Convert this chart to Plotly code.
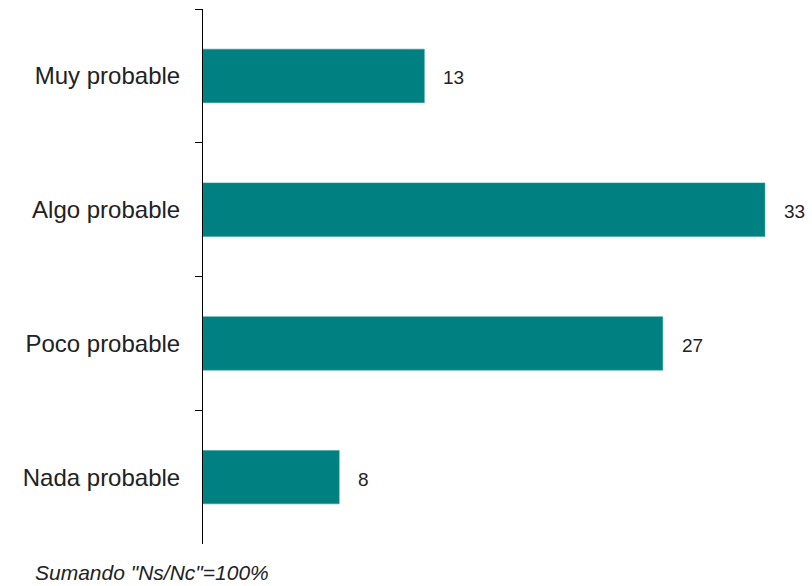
import plotly.graph_objects as go

categories = ["Muy probable", "Algo probable", "Poco probable", "Nada probable"]
values = [13, 33, 27, 8]
footnote = 'Sumando "Ns/Nc"=100%'

FONT = "Liberation Sans, Arial, sans-serif"

fig = go.Figure()
fig.add_trace(go.Bar(
    x=values,
    y=categories,
    orientation="h",
    marker=dict(color="#008080", line=dict(color="#2a9a9a", width=0.5)),
    width=0.4,
    hoverinfo="skip",
))

for c, v in zip(categories, values):
    fig.add_annotation(
        x=v, y=c, text=str(v), showarrow=False,
        xanchor="left", xshift=17, yshift=-2,
        font=dict(family=FONT, size=19, color="#222"),
    )

fig.add_annotation(
    x=0, y=0, xref="paper", yref="paper",
    text="<i>" + footnote + "</i>", showarrow=False,
    xanchor="left", yanchor="top",
    xshift=-170, yshift=-15,
    font=dict(family=FONT, size=21, color="#222"),
)

fig.update_layout(
    width=812, height=586,
    margin=dict(l=203, r=13, t=9, b=42, autoexpand=False),
    paper_bgcolor="white", plot_bgcolor="white",
    showlegend=False,
    font=dict(family=FONT, size=24, color="#222"),
    xaxis=dict(range=[0, 35], visible=False),
    yaxis=dict(
        categoryorder="array", categoryarray=categories, autorange="reversed",
        showline=True, linecolor="black", linewidth=1,
        ticks="outside", tickson="boundaries", ticklen=7, tickcolor="black",
        showgrid=False, zeroline=False, automargin=False,
        tickfont=dict(size=24, color="#222"),
        ticklabelstandoff=17,
    ),
)

# remove the browser's default body margin so the figure fills the window
fig.write_html(
    "out.html",
    config={"displayModeBar": False},
    post_script="document.body.style.margin='0';document.body.style.overflow='hidden';",
)
